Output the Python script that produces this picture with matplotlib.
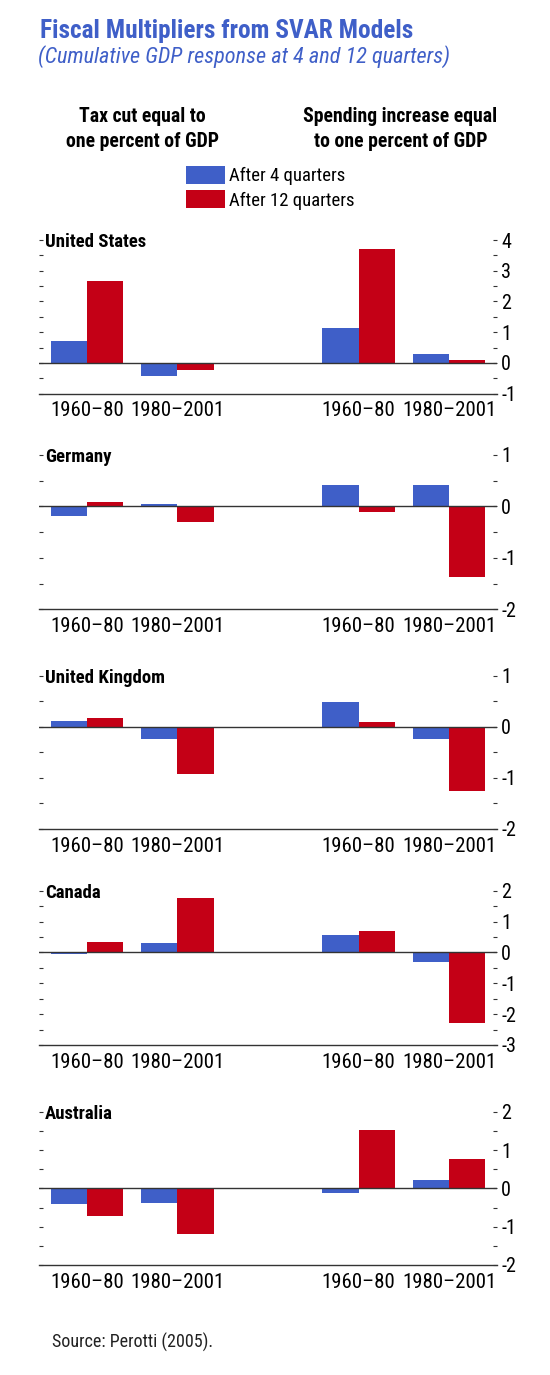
import matplotlib
matplotlib.use('Agg')
import matplotlib.pyplot as plt
from matplotlib.ticker import MultipleLocator, FuncFormatter

# condensed face, with condensed DejaVu as a fallback
plt.rcParams['font.family'] = ['Roboto Condensed', 'Liberation Sans Narrow', 'DejaVu Sans']
plt.rcParams['font.stretch'] = 'condensed'

BLUE = '#3f5fc8'
RED = '#c40016'
DARK = '#333333'

periods = ['1960\u201380', '1980\u20132001', '1960\u201380', '1980\u20132001']
positions = [0, 1, 3, 4]

countries = ['United States', 'Germany', 'United Kingdom', 'Canada', 'Australia']
us_4q = [0.70, -0.44, 1.15, 0.30]
us_12q = [2.65, -0.24, 3.70, 0.11]
de_4q = [-0.18, 0.05, 0.42, 0.42]
de_12q = [0.085, -0.30, -0.10, -1.38]
uk_4q = [0.12, -0.23, 0.49, -0.23]
uk_12q = [0.18, -0.92, 0.10, -1.25]
ca_4q = [-0.05, 0.29, 0.58, -0.31]
ca_12q = [0.35, 1.77, 0.71, -2.28]
au_4q = [-0.40, -0.37, -0.11, 0.22]
au_12q = [-0.71, -1.18, 1.52, 0.77]
y_ranges = [(-1, 4), (-2, 1), (-2, 1), (-3, 2), (-2, 2)]

series_4q = [us_4q, de_4q, uk_4q, ca_4q, au_4q]
series_12q = [us_12q, de_12q, uk_12q, ca_12q, au_12q]

W, H = 550, 1375
# panel top / bottom in pixels
panel_px = [(240, 393.7), (455, 609.3), (675.7, 829), (890.7, 1045), (1111.7, 1265)]
left_px, right_px = 39, 497

fig = plt.figure(figsize=(W / 100, H / 100), dpi=100)


def fx(px):
    return px / W


def fy(py):
    return 1 - py / H


bw = 0.4
handles = None
for name, b4, b12, yr, (top, bot) in zip(countries, series_4q, series_12q, y_ranges, panel_px):
    ax = fig.add_axes([fx(left_px), fy(bot), fx(right_px - left_px), (bot - top) / H])
    xb = [p - bw / 2 for p in positions]
    xr = [p + bw / 2 for p in positions]
    h1 = ax.bar(xb, b4, bw, color=BLUE, label='After 4 quarters', zorder=2)
    h2 = ax.bar(xr, b12, bw, color=RED, label='After 12 quarters', zorder=2)
    if handles is None:
        handles = [h1, h2]
    ax.axhline(0, color=DARK, lw=1.0, zorder=3)
    ax.set_xlim(-0.53, 4.53)
    ax.set_ylim(*yr)
    for s in ['top', 'left', 'right']:
        ax.spines[s].set_visible(False)
    ax.spines['bottom'].set_color(DARK)
    ax.spines['bottom'].set_linewidth(1.0)
    ax.set_xticks(positions, periods)
    ax.tick_params(axis='x', length=0, pad=5.5, labelsize=15, colors='black')
    ax.yaxis.set_major_locator(MultipleLocator(1))
    ax.yaxis.set_minor_locator(MultipleLocator(0.5))
    ax.yaxis.set_major_formatter(FuncFormatter(lambda v, p: f'{int(round(v))}'))
    ax.tick_params(axis='y', which='both', left=True, right=True, labelleft=False,
                   labelright=True, direction='in', length=3, width=0.8,
                   color=DARK, labelsize=14.5, pad=3)
    fig.text(fx(45), fy(top + 7.3), name, fontsize=13.5, fontweight='bold',
             va='baseline', ha='left')

fig.text(fx(40), fy(38.3), 'Fiscal Multipliers from SVAR Models', color=BLUE,
         fontsize=18.3, fontweight='bold', va='baseline')
fig.text(fx(38), fy(63.3), '(Cumulative GDP response at 4 and 12 quarters)', color=BLUE,
         fontsize=16, fontstyle='italic', va='baseline')

fig.text(fx(142.5), fy(121.7), 'Tax cut equal to', fontsize=14.2, fontweight='bold',
         ha='center', va='baseline')
fig.text(fx(142.5), fy(146.7), 'one percent of GDP', fontsize=14.2, fontweight='bold',
         ha='center', va='baseline')
fig.text(fx(400.5), fy(122.3), 'Spending increase equal', fontsize=14.2, fontweight='bold',
         ha='center', va='baseline')
fig.text(fx(400.5), fy(146.7), 'to one percent of GDP', fontsize=14.2, fontweight='bold',
         ha='center', va='baseline')

fig.legend(handles=handles, loc='upper left', bbox_to_anchor=(fx(186), fy(165.5)),
           frameon=False, fontsize=13.5, borderpad=0, borderaxespad=0,
           handlelength=2.08, handleheight=1.1, handletextpad=0.2, labelspacing=0.28)

fig.text(fx(52), fy(1348), 'Source: Perotti (2005).', fontsize=13, color='#222222',
         va='baseline')

fig.savefig('out.png', dpi=100)
